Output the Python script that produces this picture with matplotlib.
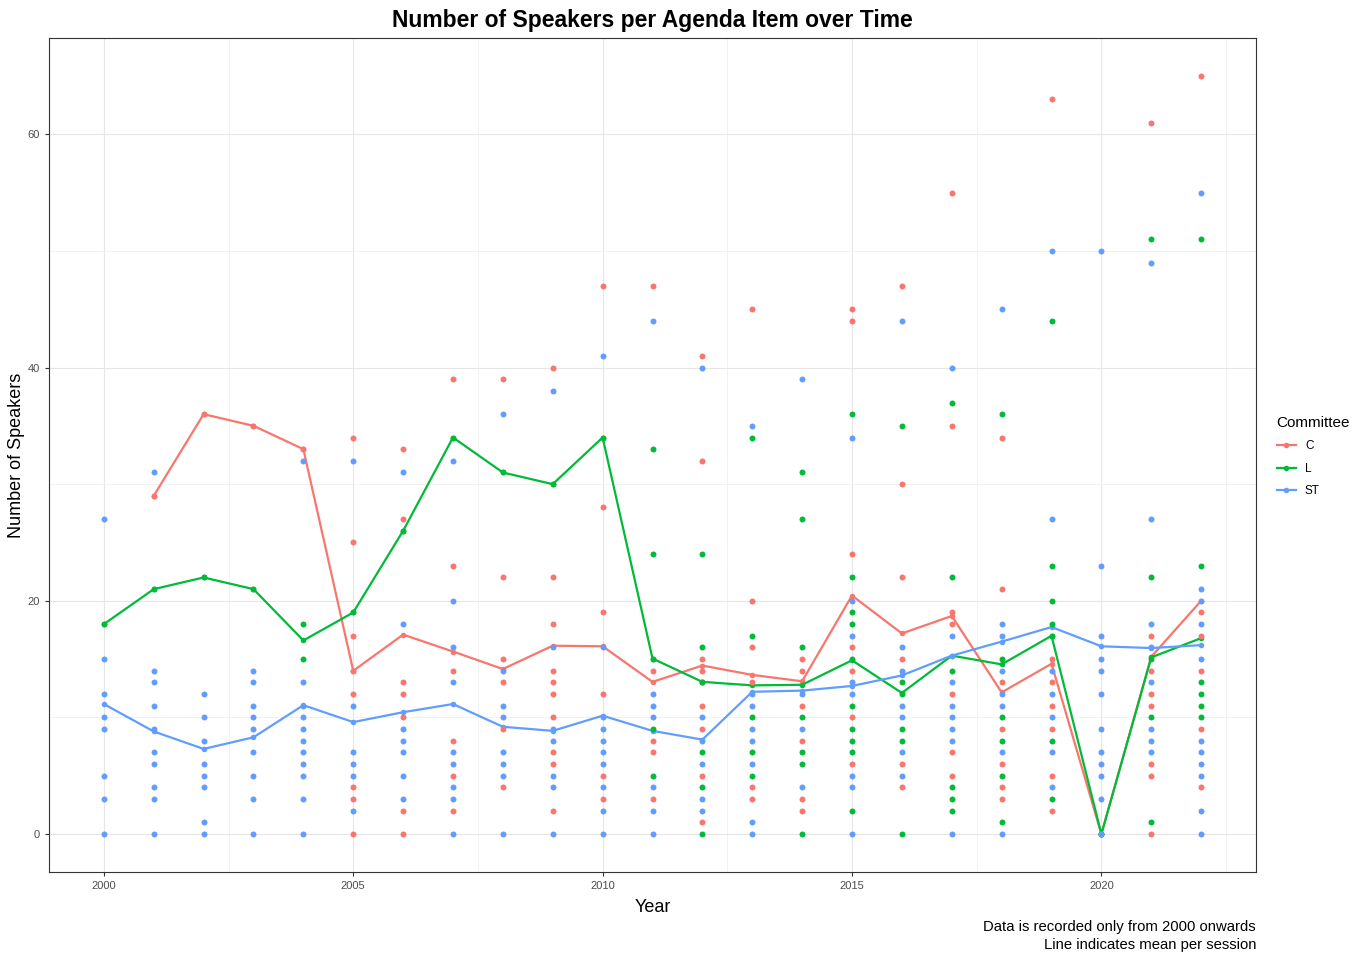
import matplotlib
matplotlib.use("Agg")
from matplotlib import pyplot as plt
from matplotlib.ticker import MultipleLocator

plt.rcParams['font.family'] = ['Liberation Sans', 'DejaVu Sans']

years = list(range(2000, 2023))

# number of speakers per agenda item, one list per year (2000..2022)
pts_C = [[], [29], [36], [35], [33],
         [34, 25, 17, 14, 12, 4, 3, 0],
         [33, 27, 13, 12, 10, 2, 0],
         [39, 23, 14, 8, 5, 2],
         [39, 22, 15, 13, 9, 4],
         [40, 22, 18, 14, 13, 12, 10, 7, 6, 2],
         [47, 28, 19, 12, 5, 3],
         [47, 14, 8, 7, 3],
         [41, 32, 15, 14, 13, 11, 9, 5, 1],
         [45, 20, 16, 13, 4, 3],
         [15, 14, 11, 8, 3, 2],
         [45, 44, 24, 16, 14, 10, 6],
         [47, 30, 22, 15, 6, 4],
         [55, 35, 19, 18, 12, 7, 5],
         [34, 21, 13, 9, 6, 4, 3],
         [63, 15, 13, 11, 9, 5, 2],
         [0],
         [61, 17, 14, 12, 11, 6, 5, 0],
         [65, 19, 17, 14, 9, 4]]

pts_L = [[18], [21], [22], [21], [18, 15], [19], [26], [34], [31], [30], [34],
         [33, 24, 15, 9, 5],
         [24, 16, 13, 7, 4, 0],
         [34, 17, 10, 7, 5],
         [31, 27, 16, 10, 7, 6, 0],
         [36, 22, 19, 18, 15, 11, 9, 8, 7, 2],
         [35, 13, 12, 9, 8, 0],
         [37, 22, 14, 4, 3, 2],
         [36, 15, 10, 8, 5, 1],
         [44, 23, 20, 18, 17, 8, 3],
         [0],
         [51, 22, 15, 10, 1],
         [51, 23, 13, 12, 11, 10]]

pts_ST = [[27, 15, 12, 10, 9, 5, 3, 0],
          [31, 14, 13, 11, 9, 7, 6, 4, 3, 0],
          [12, 10, 8, 6, 5, 4, 1, 0],
          [14, 13, 11, 10, 9, 7, 5, 3, 0],
          [32, 13, 11, 10, 9, 8, 7, 6, 5, 3, 0],
          [32, 11, 7, 6, 5, 2],
          [31, 18, 9, 8, 7, 5, 3],
          [32, 20, 16, 13, 7, 6, 4, 3, 0],
          [36, 14, 11, 10, 7, 6, 5, 0],
          [38, 16, 9, 8, 5, 4, 0],
          [41, 16, 10, 9, 8, 7, 6, 4, 2, 0],
          [44, 12, 11, 10, 4, 2, 0],
          [40, 10, 8, 6, 3, 2],
          [35, 12, 11, 9, 8, 6, 1, 0],
          [39, 12, 9, 4],
          [34, 20, 17, 13, 12, 5, 4, 0],
          [44, 16, 14, 11, 10, 7, 5],
          [40, 17, 13, 11, 10, 9, 8, 0],
          [45, 18, 17, 14, 12, 11, 7, 0],
          [50, 27, 14, 12, 10, 7, 4],
          [50, 23, 17, 15, 14, 12, 9, 7, 6, 5, 3, 0],
          [49, 27, 18, 16, 13, 9, 8, 7],
          [55, 21, 20, 18, 15, 8, 7, 6, 5, 2, 0]]

# mean per session
mean_years_C = years[1:]
mean_C = [29, 36, 35, 33, 14, 17.1, 15.65, 14.15, 16.15, 16.1, 13.05, 14.45,
          13.65, 13.1, 20.45, 17.2, 18.7, 12.15, 14.6, 0, 15.2, 20]
mean_L = [18, 21, 22, 21, 16.6, 19, 26, 34, 31, 30, 34, 15.05, 13.05, 12.75,
          12.8, 14.9, 12.1, 15.3, 14.55, 17, 0, 15.15, 16.8]
mean_ST = [11.15, 8.8, 7.3, 8.3, 11.05, 9.6, 10.45, 11.15, 9.2, 8.85, 10.15,
           8.85, 8.1, 12.2, 12.3, 12.7, 13.6, 15.3, 16.5, 17.75, 16.1, 15.95, 16.2]

colors = {"C": "#F8766D", "L": "#00BA38", "ST": "#619CFF"}

fig = plt.figure(figsize=(13.6, 9.56), dpi=100)
ax = fig.add_axes([49 / 1360, 1 - 872 / 956, (1256 - 49) / 1360, (872 - 38) / 956])

series = [("C", pts_C, mean_years_C, mean_C),
          ("L", pts_L, years, mean_L),
          ("ST", pts_ST, years, mean_ST)]

for name, pts, my, mv in series:
    ax.plot(my, mv, color=colors[name], lw=1.6, marker="o", ms=4, mew=0,
            label=name, zorder=3)

for name, pts, my, mv in series:
    xs, ys = [], []
    for yr, vals in zip(years, pts):
        xs += [yr] * len(vals)
        ys += vals
    ax.plot(xs, ys, linestyle="none", marker="o", ms=4.3, mew=0,
            color=colors[name], zorder=4)

ax.set_xlim(1998.9, 2023.1)
ax.set_ylim(-3.25, 68.25)
ax.xaxis.set_major_locator(MultipleLocator(5))
ax.xaxis.set_minor_locator(MultipleLocator(2.5))
ax.yaxis.set_major_locator(MultipleLocator(20))
ax.yaxis.set_minor_locator(MultipleLocator(10))
ax.grid(which="major", color="#E6E6E6", lw=0.8)
ax.grid(which="minor", color="#F0F0F0", lw=0.6)
ax.set_axisbelow(True)
ax.tick_params(which="major", length=3, color="#333333", labelsize=8,
               labelcolor="#4D4D4D")
ax.tick_params(which="minor", length=0)
for s in ax.spines.values():
    s.set_color("#333333")
    s.set_linewidth(0.8)

ax.set_xlabel("Year", fontsize=13, labelpad=6)
ax.set_ylabel("Number of Speakers", fontsize=13, labelpad=2)
ax.set_title("Number of Speakers per Agenda Item over Time", fontsize=16.5,
             fontweight="bold", pad=8)

leg = ax.legend(title="Committee", loc="upper left",
                bbox_to_anchor=(1266 / 1360, 1 - 405 / 956),
                bbox_transform=fig.transFigure, frameon=False, fontsize=8.5,
                title_fontsize=11, handlelength=1.6, labelspacing=0.9)
leg._legend_box.align = "left"

fig.text(1256 / 1360, 1 - 936 / 956,
         "Data is recorded only from 2000 onwards\nLine indicates mean per session",
         ha="right", va="center", fontsize=10.7, linespacing=1.3)

fig.savefig("out.png", dpi=100)
